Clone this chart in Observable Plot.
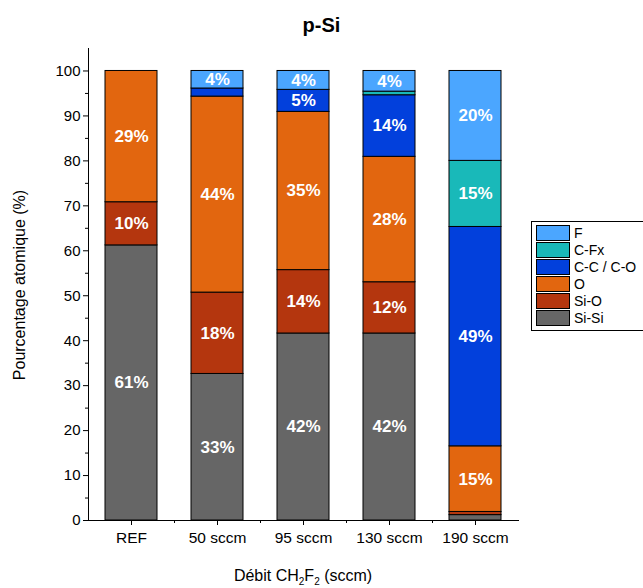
<!DOCTYPE html>
<html>
<head>
<meta charset="utf-8">
<script src="https://cdn.jsdelivr.net/npm/d3@7"></script>
<script src="https://cdn.jsdelivr.net/npm/@observablehq/plot@0.6"></script>
<style>
  body { margin: 0; background: #fff; font-family: "Liberation Sans", Arial, sans-serif; }
  #wrap { position: relative; width: 643px; height: 588px; }
  #title { position: absolute; left: 0; width: 643px; top: 14px; text-align: center; font-weight: bold; font-size: 20px; }
  #xlabel { position: absolute; left: 88px; width: 430px; top: 567px; text-align: center; font-size: 16px; }
  #xlabel sub { font-size: 10px; vertical-align: -4px; line-height: 0; }
  #ylabel { position: absolute; left: 20px; top: 285px; width: 300px; margin-left: -150px; margin-top: -10px; height: 20px; line-height: 20px; text-align: center; font-size: 16px; transform: rotate(-90deg); }
  #legend { position: absolute; left: 531px; top: 221px; width: 130px; height: 110px; border: 1px solid #000; border-right: none; box-sizing: border-box; padding-top: 2px; }
  .item { display: flex; align-items: center; height: 17px; font-size: 14px; }
  .sw { width: 34px; height: 16px; border: 1px solid #000; box-sizing: border-box; margin-left: 4px; margin-right: 4px; }
</style>
</head>
<body>
<div id="wrap">
  <div id="title">p-Si</div>
  <div id="chart"></div>
  <div id="ylabel">Pourcentage atomique (%)</div>
  <div id="xlabel">Débit CH<sub>2</sub>F<sub>2</sub> (sccm)</div>
  <div id="legend"></div>
</div>
<script>
const categories = ["REF", "50 sccm", "95 sccm", "130 sccm", "190 sccm"];
const series = ["Si-Si", "Si-O", "O", "C-C / C-O", "C-Fx", "F"];
const colors = ["#666666", "#b4360e", "#e2660f", "#0240dc", "#19b9b9", "#4ba6ff"];

const siSi = [61.2, 32.6, 41.6, 41.6, 1.2];
const siO  = [9.6, 18.1, 14.1, 11.4, 0.7];
const oxy  = [29.2, 43.6, 35.2, 27.9, 14.6];
const cc   = [0, 1.8, 4.9, 13.7, 48.8];
const cfx  = [0, 0, 0, 0.8, 14.7];
const f    = [0, 3.9, 4.2, 4.6, 20.0];

const siSiLabels = ["61%", "33%", "42%", "42%", ""];
const siOLabels  = ["10%", "18%", "14%", "12%", ""];
const oLabels    = ["29%", "44%", "35%", "28%", "15%"];
const ccLabels   = ["", "", "5%", "14%", "49%"];
const cfxLabels  = ["", "", "", "", "15%"];
const fLabels    = ["", "4%", "4%", "4%", "20%"];

const yTicks = [0, 10, 20, 30, 40, 50, 60, 70, 80, 90, 100];
const yMinor = [5, 15, 25, 35, 45, 55, 65, 75, 85, 95];

const valueArrays = [siSi, siO, oxy, cc, cfx, f];
const labelArrays = [siSiLabels, siOLabels, oLabels, ccLabels, cfxLabels, fLabels];

const data = [];
series.forEach((s, si) => {
  categories.forEach((c, ci) => {
    data.push({category: c, series: s, value: valueArrays[si][ci], label: labelArrays[si][ci]});
  });
});

const stackOpts = {x: "category", y: "value", z: "series", order: series};

const chart = Plot.plot({
  width: 643,
  height: 588,
  marginLeft: 88,
  marginRight: 125,
  marginTop: 48,
  marginBottom: 68,
  style: {fontFamily: "'Liberation Sans', Arial, sans-serif", fontSize: "15px", color: "#000", background: "#fff"},
  x: {domain: categories, paddingInner: 0.4, paddingOuter: 0.2, label: null},
  y: {domain: [0, 105], label: null},
  color: {domain: series, range: colors},
  marks: [
    Plot.barY(data, Plot.stackY({...stackOpts, fill: "series", stroke: "#000", strokeWidth: 1, filter: d => d.value > 0})),
    Plot.text(data, Plot.stackY({...stackOpts, text: "label", fill: "white", fontWeight: "bold", fontSize: 17})),
    Plot.axisY({ticks: yTicks, tickSize: 5, tickPadding: 3, fontSize: 15, label: null}),
    Plot.axisY({ticks: yMinor, tickSize: 3, tickFormat: () => "", label: null}),
    Plot.axisX({tickSize: 5, tickPadding: 6, fontSize: 15.5, label: null}),
    Plot.axisX(categories.slice(1), {tickSize: 3, dx: -43, tickFormat: () => "", label: null}),
    Plot.frame({anchor: "left"}),
    Plot.frame({anchor: "bottom"})
  ]
});

document.getElementById("chart").appendChild(chart);

const legend = document.getElementById("legend");
series.slice().reverse().forEach(s => {
  const i = series.indexOf(s);
  const row = document.createElement("div");
  row.className = "item";
  const sw = document.createElement("div");
  sw.className = "sw";
  sw.style.background = colors[i];
  const t = document.createElement("span");
  t.textContent = s;
  row.appendChild(sw);
  row.appendChild(t);
  legend.appendChild(row);
});
</script>
</body>
</html>
